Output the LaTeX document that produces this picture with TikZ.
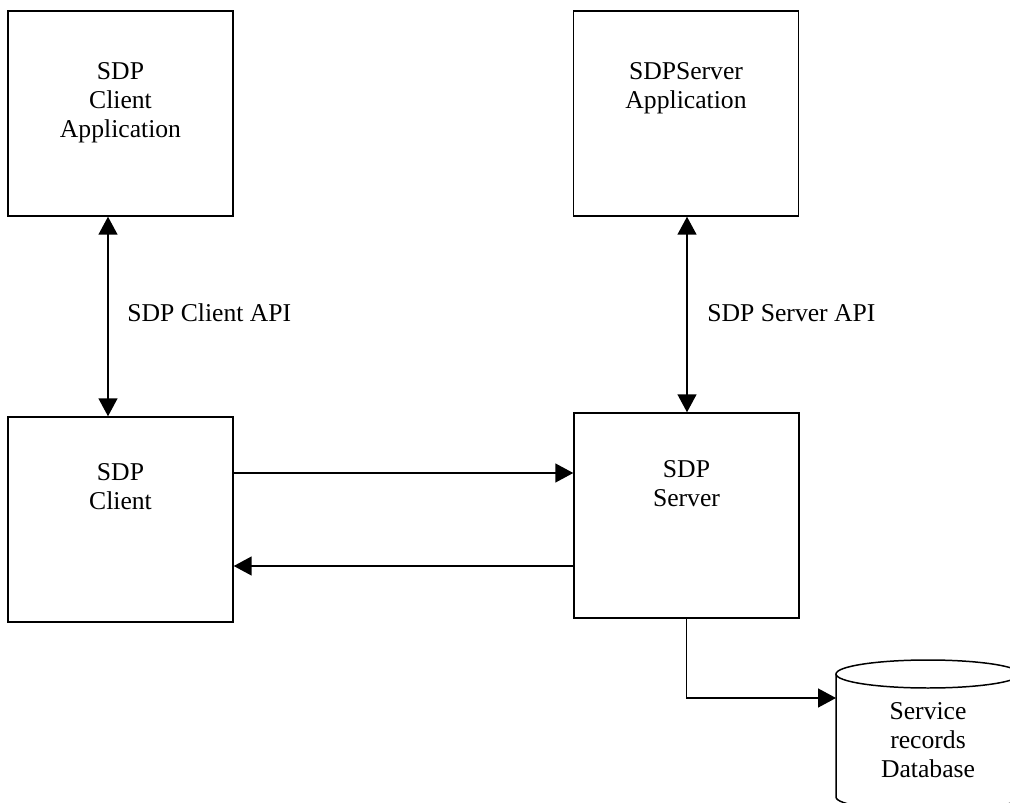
\documentclass[tikz,border=0pt]{standalone}
\usepackage{fontspec}
\setmainfont{Liberation Serif}
\usetikzlibrary{arrows.meta}
\tikzset{
  boite/.style={draw, line width=0.85pt, minimum width=4.5cm, minimum height=4.1cm, inner sep=0pt},
  texte/.style={font=\fontsize{14.6}{16.5}\selectfont, align=center, anchor=north, inner sep=0pt},
  fleche/.style={-{Triangle[length=3.6mm,width=3.8mm]}, line width=0.85pt},
  fleches/.style={{Triangle[length=3.6mm,width=3.8mm]}-{Triangle[length=3.6mm,width=3.8mm]}, line width=0.85pt}
}

\begin{document}
\begin{tikzpicture}[x=0.02cm, y=-0.02cm]
\useasboundingbox (0,0) rectangle (1010,803);
\clip (0,0) rectangle (1010,803);

% Applications en haut
\node[boite] (clientapp) at (120.5,113.5) {};
\node[boite] (serverapp) at (686,113.5) {};
% Client et serveur en bas
\node[boite] (client) at (120.5,519.5) {};
\node[boite] (server) at (686.5,515.5) {};

% Textes des boites
\node[texte] (clientapp-t) at (120.5,62) {SDP\\Client\\Application};
\node[texte] (serverapp-t) at (686,62) {SDPServer\\Application};
\node[texte] (client-t) at (120.5,463) {SDP\\Client};
\node[texte] (server-t) at (686.5,460) {SDP\\Server};

% API entre application et couche SDP
\coordinate (api-c) at (108,0);
\coordinate (api-s) at (687,0);
\draw[fleches] (clientapp.south -| api-c) -- (client.north -| api-c);
\draw[fleches] (serverapp.south -| api-s) -- (server.north -| api-s);
\node[texte, anchor=west] (capi) at (127,313) {SDP Client API};
\node[texte, anchor=west] (sapi) at (707,313) {SDP Server API};

% Requete et reponse
\coordinate (req) at (0,473);
\coordinate (rep) at (0,566);
\draw[fleche] (client.east |- req) -- (server.west |- req);
\draw[fleche] (server.west |- rep) -- (client.east |- rep);

% Base de donnees
\coordinate (dbin) at (836,698);
\draw[fleche] (server.south) -- (server.south |- dbin) -- (dbin);
\draw[line width=0.85pt] (928,674) ellipse [x radius=92, y radius=14];
\draw[line width=0.85pt] (836,674) -- (836,797) arc [start angle=180, end angle=0, x radius=92, y radius=14] -- (1020,674);
\node[texte] (db) at (928,702) {Service\\records\\Database};
\end{tikzpicture}
\end{document}
